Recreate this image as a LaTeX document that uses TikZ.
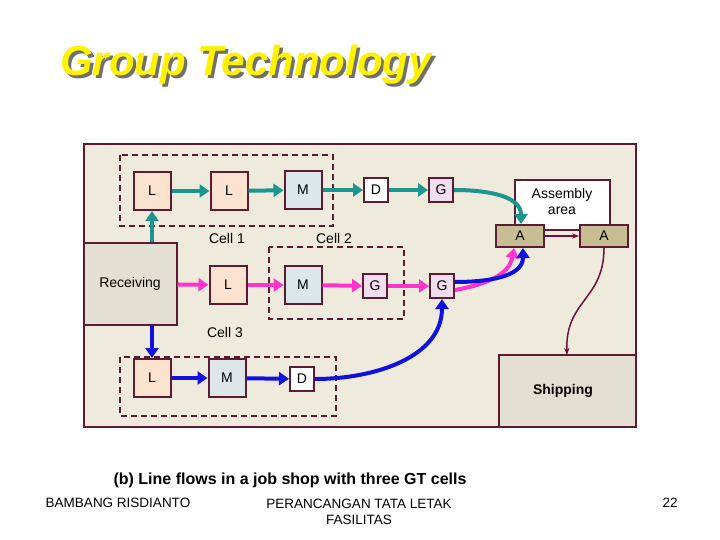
\documentclass[tikz,border=0pt]{standalone}
\usepackage{fontspec}
\setmainfont{Liberation Sans}
\usetikzlibrary{arrows.meta}
\definecolor{fr}{HTML}{5C1A33}
\definecolor{bg}{HTML}{EEEADC}
\definecolor{lf}{HTML}{FCE3CF}
\definecolor{mf}{HTML}{DDE7E7}
\definecolor{gf}{HTML}{F0DDEE}
\definecolor{af}{HTML}{C8BE96}
\definecolor{rf}{HTML}{E3DFD2}
\definecolor{tealc}{HTML}{1A9590}
\definecolor{magc}{HTML}{FF33CC}
\definecolor{bluc}{HTML}{1010E0}
\definecolor{marc}{HTML}{6B1040}
\tikzset{
 mach/.style={draw=fr,line width=2pt,minimum width=#1,inner sep=0pt,font=\fontsize{14}{16}\selectfont},
 mach/.default=37pt,
 big/.style={draw=fr,line width=2pt,fill=rf,font=\fontsize{14}{16}\selectfont},
 cell/.style={draw=fr,line width=1.8pt,dash pattern=on 6pt off 4pt},
 flow/.style={line width=4pt,-{Triangle[width=13pt,length=10pt]}},
 thin/.style={draw=marc,line width=1.5pt,-{Stealth[length=7pt]}},
 lbl/.style={font=\fontsize{14}{16}\selectfont}
}
\begin{document}
\begin{tikzpicture}[x=1pt,y=-1pt]
\useasboundingbox (0,0) rectangle (720,540);
\fill[white] (0,0) rectangle (720,540);
% title
\node[font=\fontsize{42}{48}\selectfont\bfseries\itshape,text=black!70,text opacity=0.8] at (249,68) {Group Technology};
\node[font=\fontsize{42}{48}\selectfont\bfseries\itshape,text=yellow] (title) at (246,65) {Group Technology};
% frame
\draw[fr,line width=2pt,fill=bg] (84,144) rectangle (636,427);
\node[big,minimum width=93pt,minimum height=82pt] (rec) at (130,284) {Receiving};
\draw[fr,line width=2pt,fill=rf] (499,355) rectangle (636,427);
\node[font=\fontsize{14}{16}\selectfont\bfseries] (ship) at (563,391) {Shipping};
\draw[fr,line width=1.5pt,fill=white] (515,180) rectangle (610,230);
\node[lbl,align=center] (asm) at (562,201) {Assembly\\area};
% cells
\draw[cell] (120,155) rectangle (333,226);
\draw[cell] (269,247) rectangle (404,319);
\draw[cell] (120,357) rectangle (336,416);
\node[lbl] (c1) at (227,238) {Cell 1};
\node[lbl] (c2) at (334,238) {Cell 2};
\node[lbl] (c3) at (225,332) {Cell 3};
% machines
\node[mach,fill=lf,minimum height=38pt] (l1) at (152,191) {L};
\node[mach,fill=lf,minimum height=38pt] (l2) at (229,191) {L};
\node[mach,fill=mf,minimum height=38pt] (m1) at (303,190) {M};
\node[mach=24pt,fill=white,minimum height=24pt] (d1) at (376,190) {D};
\node[mach=24pt,fill=gf,minimum height=24pt] (g1) at (441,190) {G};
\node[mach,fill=lf,minimum height=38pt] (l3) at (228,285) {L};
\node[mach,fill=mf,minimum height=38pt] (m2) at (303,285) {M};
\node[mach=24pt,fill=gf,minimum height=24pt] (g2) at (375,286) {G};
\node[mach=24pt,fill=gf,minimum height=24pt] (g3) at (442,286) {G};
\node[mach,fill=lf,minimum height=38pt] (l4) at (152,378) {L};
\node[mach,fill=mf,minimum height=38pt] (m3) at (227,378) {M};
\node[mach=24pt,fill=white,minimum height=24pt] (d3) at (302,379) {D};
\node[mach=48pt,fill=af,minimum height=22pt] (a1) at (520,236) {A};
\node[mach=48pt,fill=af,minimum height=22pt] (a2) at (604,236) {A};
% teal flow
\draw[flow,tealc] (rec.north -| l1) -- (l1);
\draw[flow,tealc] (l1) -- (l2);
\draw[flow,tealc] (l2) -- (m1);
\draw[flow,tealc] (m1) -- (d1);
\draw[flow,tealc] (d1) -- (g1);
\draw[flow,tealc] (g1.east) to[out=0,in=90] ([xshift=1pt]a1.north);
% magenta flow
\draw[flow,magc] (rec) -- (l3);
\draw[flow,magc] (l3) -- (m2);
\draw[flow,magc] (m2) -- (g2);
\draw[flow,magc] (g2) -- (g3);
\draw[flow,magc] ([yshift=-4pt]g3.east) to[out=10,in=-100] ([xshift=-6pt]a1.south);
% blue flow
\draw[flow,bluc] (rec.south -| l4) -- (l4.north);
\draw[flow,bluc] (l4) -- (m3);
\draw[flow,bluc] (m3) -- (d3);
\draw[flow,bluc] (d3.east) to[out=0,in=-90] (g3.south);
\draw[flow,bluc] ([yshift=4pt]g3.east) to[out=0,in=-90] ([xshift=3pt]a1.south);
% assembly to shipping
\draw[thin] (a1) -- (a2);
\draw[thin] (a2.south) .. controls (604,300) and (565,300) .. (567,355);
% captions
\node[font=\fontsize{16}{18}\selectfont\bfseries] (cap) at (290,480) {(b) Line flows in a job shop with three GT cells};
\node[font=\fontsize{13.5}{15}\selectfont] (f1) at (118,503) {BAMBANG RISDIANTO};
\node[font=\fontsize{13.5}{16}\selectfont,align=center] (f2) at (359,512) {PERANCANGAN TATA LETAK\\FASILITAS};
\node[font=\fontsize{13.5}{15}\selectfont] (f3) at (670,503) {22};
\end{tikzpicture}
\end{document}
